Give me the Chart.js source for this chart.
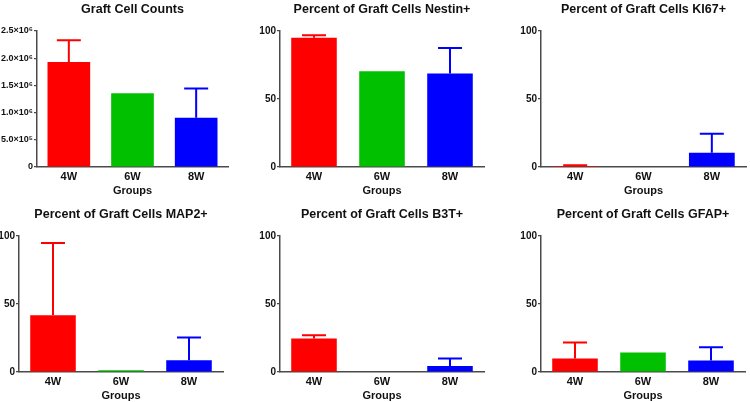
<!DOCTYPE html>
<html>
<head>
<meta charset="utf-8">
<script src="https://cdn.jsdelivr.net/npm/chart.js@4.4.0/dist/chart.umd.min.js"></script>
<style>
 body { margin: 0; background: #fff; overflow: hidden; }
 .panel { position: absolute; }
</style>
</head>
<body>
<div id="wrap"></div>
<script>
// data
var groups = ['4W', '6W', '8W'];
var barColors = ['#ff0000', '#00c000', '#0000ff'];

var countMean = [1930000, 1355000, 905000];
var countErr = [400000, 0, 540000];
var countTicks = ['0', '5.0×10⁵', '1.0×10⁶', '1.5×10⁶', '2.0×10⁶', '2.5×10⁶'];

var nestinMean = [95.1, 70.4, 68.7];
var nestinErr = [1.7, 0, 18.8];

var ki67Mean = [0.7, 0, 10.5];
var ki67Err = [0.6, 0, 13.9];

var map2Mean = [41.7, 1.2, 8.6];
var map2Err = [53.2, 0, 16.7];

var b3tMean = [24.6, 0, 4.4];
var b3tErr = [2.4, 0, 5.5];

var gfapMean = [9.9, 14.3, 8.4];
var gfapErr = [11.7, 0, 9.8];

var pctTicks = ['0', '50', '100'];

var font = "'Liberation Sans', Arial, sans-serif";
var axisColor = '#4a4a4a';

// upper error bars, drawn through the y scale
var errorBars = {
 id: 'errorBars',
 afterDatasetsDraw: function(chart) {
  var ctx = chart.ctx;
  var yScale = chart.scales.y;
  var ds = chart.data.datasets[0];
  var meta = chart.getDatasetMeta(0);
  meta.data.forEach(function(bar, i) {
   var err = ds.errors[i];
   if (!err) return;
   var y0 = yScale.getPixelForValue(ds.data[i]);
   var y1 = yScale.getPixelForValue(ds.data[i] + err);
   ctx.save();
   ctx.strokeStyle = ds.backgroundColor[i];
   ctx.lineWidth = 2;
   ctx.beginPath();
   ctx.moveTo(bar.x, y0);
   ctx.lineTo(bar.x, y1);
   ctx.moveTo(bar.x - 12, y1);
   ctx.lineTo(bar.x + 12, y1);
   ctx.stroke();
   ctx.restore();
  });
 }
};

function makePanel(left, top, yWidth, padRight, title, means, errs, max, step, tickLabels, tickSize) {
 var div = document.createElement('div');
 div.className = 'panel';
 div.style.left = left + 'px';
 div.style.top = top + 'px';
 var cv = document.createElement('canvas');
 cv.width = 250;
 cv.height = 200;
 div.appendChild(cv);
 document.getElementById('wrap').appendChild(div);

 new Chart(cv, {
  type: 'bar',
  data: {
   labels: groups,
   datasets: [{
    data: means,
    errors: errs,
    backgroundColor: barColors,
    borderWidth: 0,
    barPercentage: 0.67,
    categoryPercentage: 1
   }]
  },
  options: {
   responsive: false,
   animation: false,
   layout: { padding: { left: 0, right: padRight, top: 0, bottom: 0 } },
   plugins: {
    legend: { display: false },
    tooltip: { enabled: false },
    title: {
     display: true,
     text: title,
     fullSize: false,
     color: '#111',
     font: { family: font, size: 12.5, weight: 'bold', lineHeight: 1.2 },
     padding: { top: 2, bottom: 14 }
    }
   },
   scales: {
    x: {
     grid: { display: true, drawOnChartArea: false, drawTicks: false },
     border: { color: axisColor, width: 1.5 },
     ticks: { color: '#111', padding: 3, font: { family: font, size: 11, weight: 'bold' } },
     title: {
      display: true,
      text: 'Groups',
      color: '#111',
      font: { family: font, size: 11, weight: 'bold' },
      padding: { top: 2, bottom: 2 }
     },
     afterFit: function(s) { s.height = 33; }
    },
    y: {
     min: 0,
     max: max,
     grid: { display: true, drawOnChartArea: false, drawTicks: true, tickLength: 3, color: axisColor, lineWidth: 1.2 },
     border: { color: axisColor, width: 1.5 },
     ticks: {
      stepSize: step,
      padding: 1,
      color: '#111',
      font: { family: font, size: tickSize, weight: 'bold' },
      callback: function(v, i) { return tickLabels[i]; }
     },
     afterFit: function(s) { s.width = yWidth; }
    }
   }
  },
  plugins: [errorBars]
 });
}

makePanel(0, 0, 37, 22, 'Graft Cell Counts', countMean, countErr, 2500000, 500000, countTicks, 9);
makePanel(250, 0, 30, 16, 'Percent of Graft Cells Nestin+', nestinMean, nestinErr, 100, 50, pctTicks, 10);
makePanel(500, 0, 41, 4, 'Percent of Graft Cells KI67+', ki67Mean, ki67Err, 100, 50, pctTicks, 10);
makePanel(0, 205, 19, 27, 'Percent of Graft Cells MAP2+', map2Mean, map2Err, 100, 50, pctTicks, 10);
makePanel(250, 205, 30, 16, 'Percent of Graft Cells B3T+', b3tMean, b3tErr, 100, 50, pctTicks, 10);
makePanel(500, 205, 41, 5, 'Percent of Graft Cells GFAP+', gfapMean, gfapErr, 100, 50, pctTicks, 10);
</script>
</body>
</html>
